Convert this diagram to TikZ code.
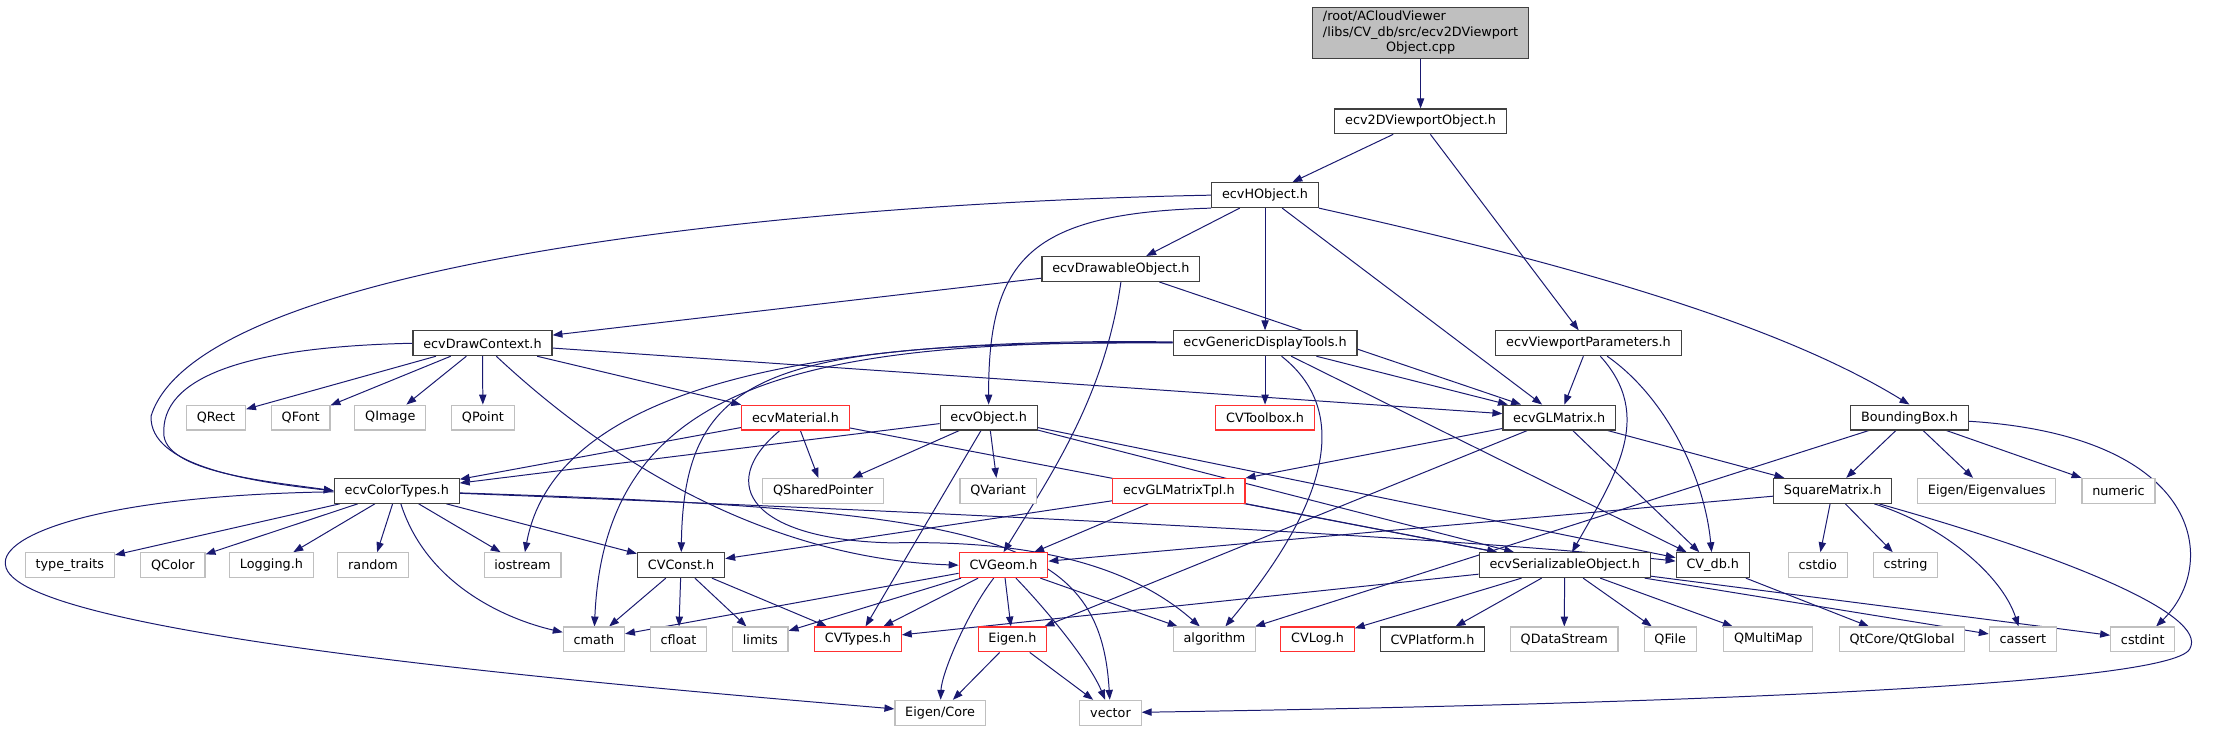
\documentclass[tikz,border=0pt]{standalone}
\usepackage{fontspec}
\setmainfont{DejaVu Sans}
\usetikzlibrary{arrows.meta}

\definecolor{edgeblue}{HTML}{191970}
\definecolor{boxgray}{HTML}{BFBFBF}
\definecolor{boxdark}{HTML}{404040}
\definecolor{boxred}{HTML}{FF3030}

\pgfdeclarelayer{paper}
\pgfdeclarelayer{edges}
\pgfsetlayers{paper,edges,main}

\tikzset{
  hdr/.style={draw=boxdark, line width=0.9pt, fill=white, minimum height=18.75pt,
    inner xsep=7.8pt, inner ysep=0pt, font=\fontsize{9.7pt}{11.6pt}\selectfont},
  sys/.style={hdr, draw=boxgray},
  trunc/.style={hdr, draw=boxred},
  inc/.style={draw=edgeblue, line width=0.75pt, -{Triangle[length=7.5pt,width=5.5pt]}}
}

\begin{document}
\begin{tikzpicture}[x=0.75pt, y=-0.75pt]
\begin{pgfonlayer}{paper}
\useasboundingbox[fill=white] (0,0) rectangle (2220,739);
\end{pgfonlayer}

% top of the graph
\node[hdr, fill=boxgray, inner ysep=2pt] (root) at (1433.5,33.5)
  {\begin{tabular}{@{}l@{}}/root/ACloudViewer\\/libs/CV\_db/src/ecv2DViewport\\\multicolumn{1}{@{}c@{}}{Object.cpp}\end{tabular}};
\node[hdr] (v2d) at (1433.5,122.5) {ecv2DViewportObject.h};
\node[hdr] (hobj) at (1276.5,197) {ecvHObject.h};
\node[hdr] (drawable) at (1131,271.5) {ecvDrawableObject.h};
\node[hdr] (ctx) at (486.5,346.5) {ecvDrawContext.h};
\node[hdr] (gdt) at (1276.5,346.5) {ecvGenericDisplayTools.h};
\node[hdr] (vpp) at (1603,346.5) {ecvViewportParameters.h};

% row 6
\node[sys] (qrect) at (217.5,421.5) {QRect};
\node[sys] (qfont) at (303,421.5) {QFont};
\node[sys] (qimage) at (393.5,421.5) {QImage};
\node[sys] (qpoint) at (487,421.5) {QPoint};
\node[trunc] (material) at (802.5,421.5) {ecvMaterial.h};
\node[hdr] (object) at (997.5,421.5) {ecvObject.h};
\node[trunc] (toolbox) at (1276.5,421.5) {CVToolbox.h};
\node[hdr] (glm) at (1573.5,421.5) {ecvGLMatrix.h};
\node[hdr] (bbox) at (1927,421.5) {BoundingBox.h};

% row 7
\node[hdr] (colortypes) at (400,495.5) {ecvColorTypes.h};
\node[sys] (qshared) at (830.5,495.5) {QSharedPointer};
\node[sys] (qvariant) at (1007,495.5) {QVariant};
\node[trunc] (glmtpl) at (1189.5,495.5) {ecvGLMatrixTpl.h};
\node[hdr] (sqm) at (1849.5,495.5) {SquareMatrix.h};
\node[sys] (eigenvals) at (2005,495.5) {Eigen/Eigenvalues};
\node[sys] (numeric) at (2138,495.5) {numeric};

% row 8
\node[sys] (typetraits) at (70,570.5) {type\_traits};
\node[sys] (qcolor) at (174,570.5) {QColor};
\node[sys] (logging) at (273.5,570.5) {Logging.h};
\node[sys] (random) at (376,570.5) {random};
\node[sys] (iostream) at (527,570.5) {iostream};
\node[hdr] (cvconst) at (687,570.5) {CVConst.h};
\node[trunc] (cvgeom) at (1012.5,570.5) {CVGeom.h};
\node[hdr] (serial) at (1579,570.5) {ecvSerializableObject.h};
\node[hdr] (cvdb) at (1728.5,570.5) {CV\_db.h};
\node[sys] (cstdio) at (1834.5,570.5) {cstdio};
\node[sys] (cstring) at (1923,570.5) {cstring};

% row 9
\node[sys] (cmath) at (599,645.5) {cmath};
\node[sys] (cfloat) at (684.5,645.5) {cfloat};
\node[sys] (limits) at (767,645.5) {limits};
\node[trunc] (cvtypes) at (865.5,645.5) {CVTypes.h};
\node[trunc] (eigenh) at (1021.5,645.5) {Eigen.h};
\node[sys] (algorithm) at (1225.5,645.5) {algorithm};
\node[trunc] (cvlog) at (1329.5,645.5) {CVLog.h};
\node[hdr] (cvplatform) at (1445.5,645.5) {CVPlatform.h};
\node[sys] (qdatastream) at (1578.5,645.5) {QDataStream};
\node[sys] (qfile) at (1685.5,645.5) {QFile};
\node[sys] (qmultimap) at (1784.5,645.5) {QMultiMap};
\node[sys] (qtglobal) at (1919.5,645.5) {QtCore/QtGlobal};
\node[sys] (cassert) at (2041.5,645.5) {cassert};
\node[sys] (cstdint) at (2162.5,645.5) {cstdint};

% bottom
\node[sys] (eigencore) at (948.5,719.5) {Eigen/Core};
\node[sys] (vector) at (1120.5,719.5) {vector};

% includes
\begin{pgfonlayer}{edges}
\draw[inc] (root) -- (v2d);
\draw[inc] (v2d) -- (hobj);
\draw[inc] (v2d) -- (vpp);

\draw[inc] (hobj.west) .. controls (800,205) and (200,265) .. (152,420) .. controls (150,470) and (250,486) .. (colortypes.west);
\draw[inc] (hobj.south west) .. controls (1040,215) and (997,260) .. (object.north);
\draw[inc] (hobj) -- (drawable);
\draw[inc] (hobj) -- (gdt);
\draw[inc] (hobj) -- (glm);
\draw[inc] (hobj.south east) .. controls (1600,270) and (1800,330) .. (bbox.north);

\draw[inc] (drawable) -- (ctx);
\draw[inc] (drawable) -- (glm);
\draw[inc] (drawable.south) .. controls (1115,400) and (1060,480) .. (cvgeom.north);

\draw[inc] (ctx.west) .. controls (250,350) and (160,380) .. (165,440) .. controls (170,478) and (280,487) .. (colortypes.west);
\draw[inc] (ctx) -- (qrect);
\draw[inc] (ctx) -- (qfont);
\draw[inc] (ctx) -- (qimage);
\draw[inc] (ctx) -- (qpoint);
\draw[inc] (ctx) -- (material);
\draw[inc] (ctx) -- (glm);
\draw[inc] (ctx) .. controls (640,490) and (800,565) .. (cvgeom.west);

\draw[inc] (gdt) .. controls (820,340) and (560,390) .. (iostream);
\draw[inc] (gdt) .. controls (800,343) and (610,390) .. (cmath);
\draw[inc] (gdt) .. controls (780,345) and (690,370) .. (cvconst);
\draw[inc] (gdt) -- (toolbox);
\draw[inc] (gdt) -- (glm);
\draw[inc] (gdt) -- (cvdb);
\draw[inc] (gdt) .. controls (1370,420) and (1330,520) .. (algorithm);

\draw[inc] (vpp) -- (glm);
\draw[inc] (vpp) .. controls (1670,420) and (1630,480) .. (serial);
\draw[inc] (vpp) .. controls (1680,400) and (1720,480) .. (cvdb);

\draw[inc] (glm) -- (glmtpl);
\draw[inc] (glm) -- (eigenh);
\draw[inc] (glm) -- (cvdb);
\draw[inc] (glm) -- (sqm);

\draw[inc] (bbox) -- (sqm);
\draw[inc] (bbox) -- (eigenvals);
\draw[inc] (bbox) -- (numeric);
\draw[inc] (bbox) -- (algorithm);
\draw[inc] (bbox) .. controls (2225,440) and (2240,570) .. (cstdint);

\draw[inc] (material) -- (colortypes);
\draw[inc] (material) -- (qshared);
\draw[inc] (material) -- (serial);
\draw[inc] (material) .. controls (720,490) and (760,545) .. (900,548) .. controls (1040,545) and (1140,570) .. (algorithm);

\draw[inc] (object) -- (colortypes);
\draw[inc] (object) -- (qshared);
\draw[inc] (object) -- (qvariant);
\draw[inc] (object) -- (cvtypes);
\draw[inc] (object) -- (serial);
\draw[inc] (object) -- (cvdb);

\draw[inc] (colortypes) -- (typetraits);
\draw[inc] (colortypes) -- (qcolor);
\draw[inc] (colortypes) -- (logging);
\draw[inc] (colortypes) -- (random);
\draw[inc] (colortypes) -- (iostream);
\draw[inc] (colortypes) -- (cvconst);
\draw[inc] (colortypes) .. controls (430,590) and (510,625) .. (cmath);
\draw[inc] (colortypes) .. controls (100,500) and (0,540) .. (5,570) .. controls (10,640) and (600,690) .. (eigencore);
\draw[inc] (colortypes) .. controls (900,515) and (1450,540) .. (cvdb);
\draw[inc] (colortypes) .. controls (1000,515) and (1110,540) .. (vector);

\draw[inc] (glmtpl) -- (cvconst);
\draw[inc] (glmtpl) -- (cvgeom);
\draw[inc] (glmtpl) -- (serial);

\draw[inc] (sqm) -- (cvgeom);
\draw[inc] (sqm) -- (cstdio);
\draw[inc] (sqm) -- (cstring);
\draw[inc] (sqm) .. controls (1960,530) and (2020,580) .. (cassert);
\draw[inc] (sqm) .. controls (2080,560) and (2230,620) .. (2210,655) .. controls (2190,695) and (1600,712) .. (vector);

\draw[inc] (cvconst) -- (cmath);
\draw[inc] (cvconst) -- (cfloat);
\draw[inc] (cvconst) -- (limits);
\draw[inc] (cvconst) -- (cvtypes);

\draw[inc] (cvgeom) -- (cmath);
\draw[inc] (cvgeom) -- (limits);
\draw[inc] (cvgeom) -- (cvtypes);
\draw[inc] (cvgeom) .. controls (975,620) and (950,680) .. (eigencore);
\draw[inc] (cvgeom) -- (eigenh);
\draw[inc] (cvgeom) .. controls (1060,620) and (1100,670) .. (vector);
\draw[inc] (cvgeom) -- (algorithm);

\draw[inc] (eigenh) -- (eigencore);
\draw[inc] (eigenh) -- (vector);

\draw[inc] (serial) -- (cvtypes);
\draw[inc] (serial) -- (cvlog);
\draw[inc] (serial) -- (cvplatform);
\draw[inc] (serial) -- (qdatastream);
\draw[inc] (serial) -- (qfile);
\draw[inc] (serial) -- (qmultimap);
\draw[inc] (serial) -- (cassert);
\draw[inc] (serial) -- (cstdint);

\draw[inc] (cvdb) -- (qtglobal);
\end{pgfonlayer}
\end{tikzpicture}
\end{document}
